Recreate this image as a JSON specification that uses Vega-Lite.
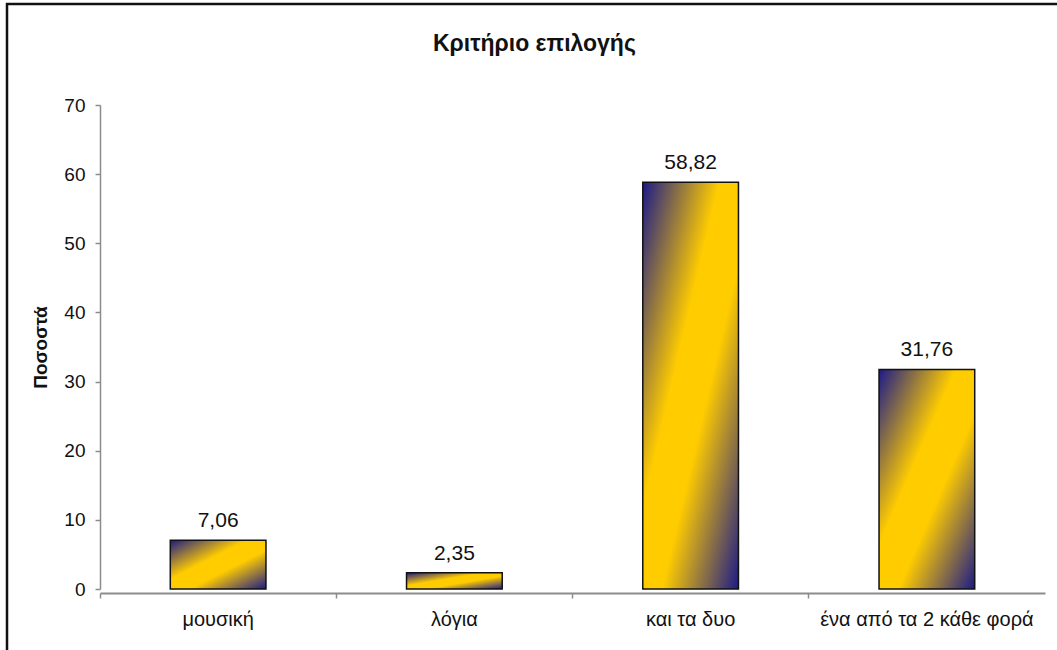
{
  "$schema": "https://vega.github.io/schema/vega-lite/v6.json",
  "autosize": "none",
  "padding": {"left": 7, "top": 4, "right": -3, "bottom": -6},
  "width": 1053,
  "height": 652,
  "background": "white",
  "title": {
    "text": "Κριτήριο επιλογής",
    "font": "Liberation Sans",
    "fontSize": 23,
    "fontWeight": "bold",
    "color": "#111111",
    "anchor": "start",
    "frame": "group",
    "offset": -52,
    "dx": 426
  },
  "data": {
    "values": [
      {"category": "μουσική", "value": 7.06},
      {"category": "λόγια", "value": 2.35},
      {"category": "και τα δυο", "value": 58.82},
      {"category": "ένα από τα 2 κάθε φορά", "value": 31.76}
    ]
  },
  "encoding": {
    "x": {
      "field": "category",
      "type": "nominal",
      "sort": null,
      "scale": {"range": [93, 1038], "paddingInner": 0, "paddingOuter": 0},
      "axis": {
        "title": null,
        "orient": "bottom",
        "offset": -63,
        "bandPosition": 0,
        "labelAngle": 0,
        "labelFont": "Liberation Sans",
        "labelFontSize": 20,
        "labelColor": "#111111",
        "labelPadding": 11,
        "labelBound": false,
        "labelOverlap": false,
        "labelLimit": 0,
        "domainColor": "#8c8c8c",
        "domainWidth": 2,
        "tickColor": "#8c8c8c",
        "tickSize": 5,
        "tickWidth": 1.5,
        "grid": false
      }
    },
    "y": {
      "field": "value",
      "type": "quantitative",
      "scale": {"domain": [0, 70], "range": [585, 101], "nice": false, "zero": true},
      "axis": {
        "title": "Ποσοστά",
        "orient": "left",
        "offset": -93,
        "values": [0, 10, 20, 30, 40, 50, 60, 70],
        "format": "d",
        "titleFont": "Liberation Sans",
        "titleFontSize": 19,
        "titleFontWeight": "bold",
        "titleColor": "#111111",
        "titlePadding": 13,
        "labelFont": "Liberation Sans",
        "labelFontSize": 19,
        "labelColor": "#111111",
        "labelPadding": 10,
        "domainColor": "#8c8c8c",
        "domainWidth": 1.5,
        "tickColor": "#8c8c8c",
        "tickSize": 5,
        "tickWidth": 1.5,
        "grid": false
      }
    }
  },
  "layer": [
    {
      "mark": {
        "type": "bar",
        "width": {"band": 0.405},
        "stroke": "#111111",
        "strokeWidth": 1.5,
        "color": {
          "gradient": "linear",
          "x1": 0, "y1": 0, "x2": 1, "y2": 1,
          "stops": [
            {"offset": 0, "color": "#1c1a88"},
            {"offset": 0.4, "color": "#ffcc00"},
            {"offset": 0.6, "color": "#ffcc00"},
            {"offset": 1, "color": "#1c1a88"}
          ]
        }
      }
    },
    {
      "mark": {
        "type": "text",
        "font": "Liberation Sans",
        "fontSize": 21,
        "color": "#111111",
        "baseline": "alphabetic",
        "dy": -13
      },
      "encoding": {
        "text": {"field": "value", "type": "quantitative", "format": ".2f"}
      }
    }
  ],
  "config": {
    "locale": {
      "number": {"decimal": ",", "thousands": ".", "grouping": [3], "currency": ["", " €"]}
    },
    "view": {"stroke": "#111111", "strokeWidth": 2.5, "fill": "white"}
  }
}
